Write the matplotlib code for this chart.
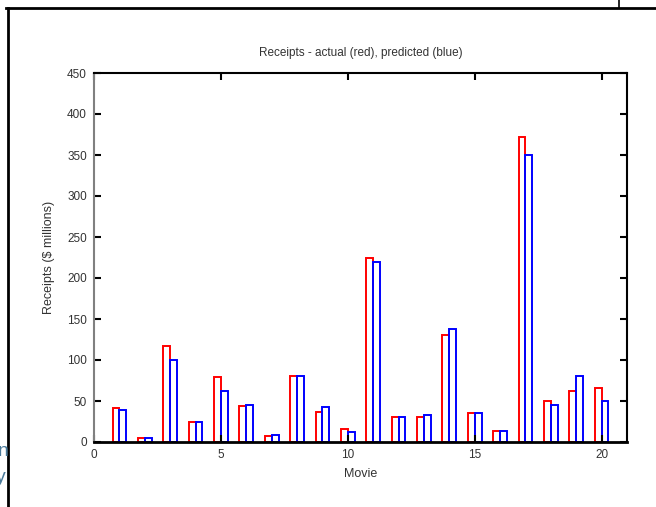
import matplotlib
matplotlib.use('Agg')
import matplotlib.pyplot as plt
from matplotlib.lines import Line2D

# Receipts per movie, $ millions
movies = list(range(1, 21))
actual = [42, 5, 117, 25, 79, 44, 7, 80, 37, 16, 225, 30, 31, 130, 35, 14, 372, 50, 62, 66]
predicted = [39, 5, 100, 25, 62, 45, 8, 80, 43, 12, 220, 31, 33, 138, 35, 14, 350, 45, 80, 50]

plt.rcParams['font.family'] = ['Liberation Sans', 'DejaVu Sans']
text_color = '#333333'

fig = plt.figure(figsize=(6.56, 5.07), dpi=100)
ax = fig.add_axes([94 / 656, 65 / 507, 533 / 656, 369 / 507])

bar_w = 0.27
ax.bar([m - bar_w for m in movies], actual, width=bar_w, align='edge',
       facecolor='none', edgecolor='#ff0000', linewidth=1.4)
ax.bar(movies, predicted, width=bar_w, align='edge',
       facecolor='none', edgecolor='#0000ff', linewidth=1.4)

ax.set_xlim(0, 21)
ax.set_ylim(0, 450)
ax.set_xticks([0, 5, 10, 15, 20])
ax.set_yticks(range(0, 451, 50))
ax.tick_params(direction='in', length=5, width=1.5, top=True, right=True,
               labelsize=8.5, labelcolor=text_color, pad=5)

for side in ['top', 'right', 'bottom']:
    ax.spines[side].set_color('black')
ax.spines['left'].set_color('#808080')
ax.spines['top'].set_linewidth(1.5)
ax.spines['right'].set_linewidth(1.5)
ax.spines['left'].set_linewidth(1.5)
ax.spines['bottom'].set_linewidth(2)

ax.set_title('Receipts - actual (red), predicted (blue)', fontsize=8.5,
             color=text_color, pad=12)
ax.set_xlabel('Movie', fontsize=9, color=text_color, labelpad=5)
ax.set_ylabel('Receipts ($ millions)', fontsize=9, color=text_color, labelpad=9)

# screenshot frame around the plot
fig.add_artist(Line2D([6 / 656, 1], [1 - 8 / 507, 1 - 8 / 507], color='black',
                      linewidth=2, transform=fig.transFigure))
fig.add_artist(Line2D([7.5 / 656, 7.5 / 656], [0, 1 - 8 / 507], color='black',
                      linewidth=2, transform=fig.transFigure))
fig.add_artist(Line2D([619 / 656, 619 / 656], [1 - 8 / 507, 1], color='black',
                      linewidth=1.2, transform=fig.transFigure))
fig.text(-2 / 656, 1 - 452 / 507, 'n', fontsize=14, color='#4a7a9a',
         ha='left', va='center')
fig.text(-4 / 656, 1 - 478 / 507, 'y', fontsize=14, color='#4a7a9a',
         ha='left', va='center')

fig.savefig('out.png', dpi=100)
